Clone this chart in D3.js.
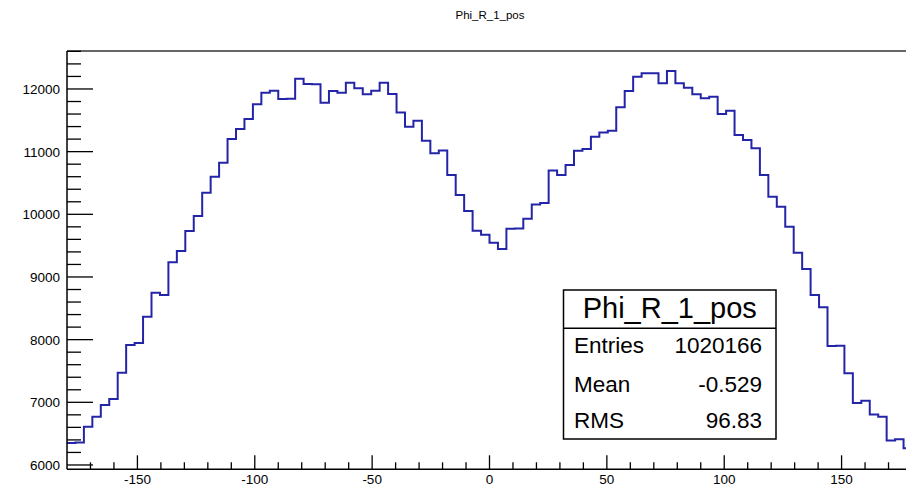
<!DOCTYPE html>
<html>
<head>
<meta charset="utf-8">
<script src="https://cdn.jsdelivr.net/npm/d3@7"></script>
<style>
  html, body { margin: 0; padding: 0; background: #fff; overflow: hidden; }
  svg { display: block; }
  text { font-family: "Liberation Sans", Arial, Helvetica, sans-serif; fill: #000; }
</style>
</head>
<body>
<div id="chart"></div>
<script>
// ---- data ----
const histTitle = "Phi_R_1_pos";
const xMin = -180, xMax = 180;
const binCounts = [
  6350, 6360, 6611, 6771, 6957, 7053, 7473, 7915, 7945, 8367,
  8750, 8713, 9234, 9415, 9734, 9973, 10345, 10601, 10824, 11202,
  11362, 11521, 11755, 11941, 11973, 11840, 11845, 12165, 12078, 12075,
  11782, 11968, 11941, 12100, 12011, 11915, 11973, 12101, 11920, 11625,
  11398, 11494, 11172, 10973, 11020, 10628, 10308, 10053, 9736, 9675,
  9548, 9445, 9770, 9772, 9930, 10155, 10180, 10700, 10628, 10787,
  11014, 11043, 11239, 11306, 11335, 11707, 11968, 12197, 12250, 12252,
  12090, 12287, 12090, 12021, 11915, 11851, 11877, 11601, 11654, 11266,
  11186, 11054, 10628, 10282, 10122, 9803, 9388, 9128, 8713, 8516,
  7899, 7902, 7463, 6990, 7026, 6805, 6771, 6390, 6410, 6266
];
const xTickLabels = [-150, -100, -50, 0, 50, 100, 150];
const yTickLabels = [6000, 7000, 8000, 9000, 10000, 11000, 12000];
const yDomain = [5931, 12606];
const statsLabels = ["Entries", "Mean", "RMS"];
const statsValues = ["1020166", "-0.529", "96.83"];

// ---- layout ----
const W = 906, H = 495;
const frame = { left: 67, right: 912, top: 51, bottom: 469.3 };

const svg = d3.select("#chart").append("svg").attr("width", W).attr("height", H);

const x = d3.scaleLinear().domain([xMin, xMax]).range([frame.left, frame.right]);
const y = d3.scaleLinear().domain(yDomain).range([frame.bottom, frame.top]);

const nBins = binCounts.length;
const binW = (xMax - xMin) / nBins;

// title
svg.append("text")
  .attr("x", 490).attr("y", 19)
  .attr("text-anchor", "middle")
  .attr("font-size", 11.5)
  .text(histTitle);

// clip
svg.append("clipPath").attr("id", "clip")
  .append("rect")
  .attr("x", frame.left).attr("y", frame.top)
  .attr("width", frame.right - frame.left).attr("height", frame.bottom - frame.top);

// histogram step line
const pts = binCounts.map((v, i) => [xMin + i * binW, v]);
pts.push([xMax, binCounts[nBins - 1]]);
const line = d3.line().x(d => x(d[0])).y(d => y(d[1])).curve(d3.curveStepAfter);
svg.append("path")
  .attr("clip-path", "url(#clip)")
  .attr("d", line(pts))
  .attr("fill", "none")
  .attr("stroke", "#2424a8")
  .attr("stroke-width", 2)
  .attr("stroke-linejoin", "miter");

// frame lines
const axisColor = "#000";
svg.append("line").attr("x1", frame.left).attr("x2", W).attr("y1", frame.top).attr("y2", frame.top)
  .attr("stroke", "#333").attr("stroke-width", 1.3);
svg.append("line").attr("x1", frame.left).attr("x2", frame.left).attr("y1", frame.top).attr("y2", frame.bottom)
  .attr("stroke", axisColor).attr("stroke-width", 1.5);
svg.append("line").attr("x1", frame.left).attr("x2", W).attr("y1", frame.bottom).attr("y2", frame.bottom)
  .attr("stroke", axisColor).attr("stroke-width", 1.5);

// y ticks (inward, to the right)
const yMinor = d3.range(6000, yDomain[1] + 1, 200);
svg.append("g").selectAll("line").data(yMinor).join("line")
  .attr("x1", frame.left)
  .attr("x2", d => frame.left + (d % 1000 === 0 ? 26 : 14))
  .attr("y1", d => y(d)).attr("y2", d => y(d))
  .attr("stroke", axisColor).attr("stroke-width", 1.3);
svg.append("g").selectAll("text").data(yTickLabels).join("text")
  .attr("x", 60).attr("y", d => y(d) + 5)
  .attr("text-anchor", "end")
  .attr("font-size", 13.5)
  .attr("fill", "#111")
  .text(d => d);

// x ticks (inward, upward)
const xMinor = d3.range(-170, xMax + 1, 10);
svg.append("g").selectAll("line").data(xMinor).join("line")
  .attr("x1", d => x(d)).attr("x2", d => x(d))
  .attr("y1", frame.bottom)
  .attr("y2", d => frame.bottom - (d % 50 === 0 ? 14 : 7))
  .attr("stroke", axisColor).attr("stroke-width", 1.3);
svg.append("g").selectAll("text").data(xTickLabels).join("text")
  .attr("x", d => x(d)).attr("y", 484)
  .attr("text-anchor", "middle")
  .attr("font-size", 13.5)
  .attr("fill", "#111")
  .text(d => d);

// stats box
const box = { x: 563.5, y: 290, w: 212.5, h: 149, sep: 328.3 };
const g = svg.append("g");
g.append("rect").attr("x", box.x).attr("y", box.y).attr("width", box.w).attr("height", box.h)
  .attr("fill", "#fff").attr("stroke", "#000").attr("stroke-width", 1.5);
g.append("line").attr("x1", box.x).attr("x2", box.x + box.w).attr("y1", box.sep).attr("y2", box.sep)
  .attr("stroke", "#000").attr("stroke-width", 1.5);
g.append("text").attr("x", box.x + box.w / 2).attr("y", 318)
  .attr("text-anchor", "middle").attr("font-size", 29).text(histTitle);
const rowY = [353, 391.5, 428];
statsLabels.forEach((lab, i) => {
  g.append("text").attr("x", 574).attr("y", rowY[i]).attr("font-size", 22.5).text(lab);
  g.append("text").attr("x", 762).attr("y", rowY[i]).attr("text-anchor", "end").attr("font-size", 22.5).text(statsValues[i]);
});
</script>
</body>
</html>
